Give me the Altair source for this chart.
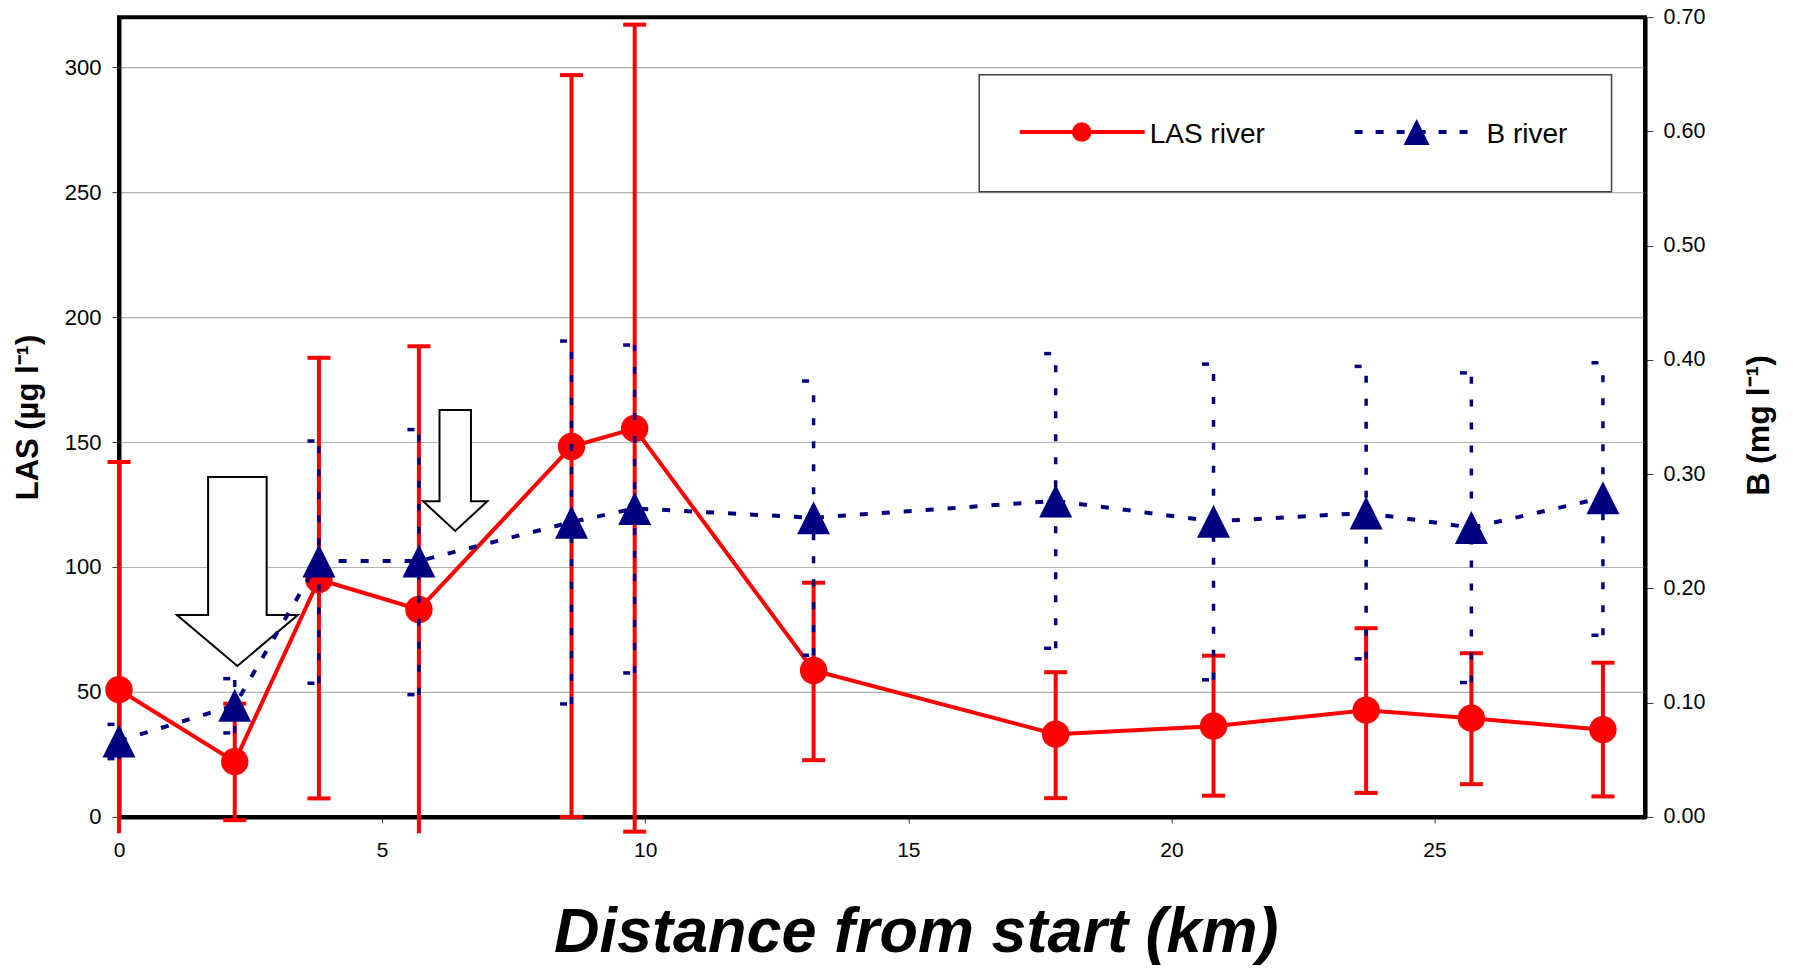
import altair as alt
import pandas as pd

# ---------------- data ----------------
dist = [0, 2.2, 3.8, 5.7, 8.6, 9.8, 13.2, 17.8, 20.8, 23.7, 25.7, 28.2]
las = [50.9, 22.1, 95.0, 83.0, 148.2, 155.4, 58.6, 33.1, 36.3, 42.7, 39.5, 34.9]
las_lo = [-40.2, -1.3, 7.4, -22.3, 0.0, -5.9, 22.7, 7.5, 8.5, 9.6, 13.1, 8.2]
las_hi = [142.0, 45.3, 183.7, 188.3, 296.8, 317.0, 93.7, 57.9, 64.5, 75.5, 65.5, 61.7]
b = [0.0665, 0.0977, 0.224, 0.224, 0.258, 0.270, 0.2618, 0.2766, 0.2587, 0.266, 0.2532, 0.2793]
b_lo = [0.051, 0.0735, 0.117, 0.107, 0.0989, 0.126, 0.1415, 0.1476, 0.120, 0.1384, 0.1176, 0.159]
b_hi = [0.081, 0.121, 0.329, 0.339, 0.4165, 0.413, 0.3815, 0.4055, 0.3963, 0.3943, 0.3886, 0.3975]

arrow_dist = [2.25, 6.39]
arrow_las = [98.2, 138.6]

legend_labels = ["LAS river", "B river"]
x_ticks = [0, 5, 10, 15, 20, 25]
las_ticks = [0, 50, 100, 150, 200, 250, 300]
b_ticks = [0.0, 0.1, 0.2, 0.3, 0.4, 0.5, 0.6, 0.7]

x_title = "Distance from start (km)"
las_title = "LAS (µg l⁻¹)"
b_title = "B (mg l⁻¹)"

df = pd.DataFrame(dict(dist=dist, las=las, las_lo=las_lo, las_hi=las_hi,
                       b=b, b_lo=b_lo, b_hi=b_hi))

RED = "#FF0000"
NAVY = "#000080"
FONT = "Liberation Sans"
CLIP_LOW = -6.5   # the original drawing cuts error bars just below the axis

# ---------------- scales & axes ----------------
x_scale = alt.Scale(domain=[0, 29], nice=False, zero=False)
x_axis = alt.Axis(values=x_ticks, title=x_title, grid=False, labelFlush=False,
                  tickSize=6, tickColor="#333333", labelPadding=17,
                  labelFontSize=21, labelColor="black", labelFont=FONT,
                  domainColor="black", domainWidth=4,
                  titleFont=FONT, titleFontSize=63, titleFontStyle="italic",
                  titleFontWeight="bold", titleColor="black",
                  titleX=797, titleY=135, titleAlign="center",
                  titleBaseline="alphabetic")
las_scale = alt.Scale(domain=[0, 320], nice=False, zero=False)
las_axis = alt.Axis(values=las_ticks, title=las_title, format="d",
                    grid=True, gridColor="#b0b0b0", gridWidth=1.2,
                    tickSize=7, tickColor="#333333", labelPadding=11,
                    labelFontSize=22, labelColor="black", labelFont=FONT,
                    domainColor="black", domainWidth=4,
                    titleFont=FONT, titleFontSize=31, titleFontWeight="bold",
                    titleColor="black", titleAngle=270, titleX=-90, titleY=400,
                    titleAlign="center", titleBaseline="middle")
b_scale = alt.Scale(domain=[0, 0.7], nice=False, zero=False)
b_axis = alt.Axis(values=b_ticks, title=b_title, format=".2f", orient="right",
                  grid=False, tickSize=8, tickColor="#333333", labelPadding=10,
                  labelFontSize=21.5, labelColor="black", labelFont=FONT,
                  domainColor="black", domainWidth=4,
                  titleFont=FONT, titleFontSize=32, titleFontWeight="bold",
                  titleColor="black", titleAngle=270, titleX=113.5, titleY=408,
                  titleAlign="center", titleBaseline="middle")

X = alt.X("dist:Q", scale=x_scale, axis=x_axis)
X2 = alt.X2("dist:Q")

base = alt.Chart(df)

# ---------------- LAS series ----------------
red_bars = base.transform_calculate(
    lo_draw=f"max(datum.las_lo, {CLIP_LOW})"
).mark_rule(color=RED, strokeWidth=4).encode(
    x=X, y=alt.Y("lo_draw:Q", scale=las_scale, axis=las_axis), y2=alt.Y2("las_hi:Q"))
red_cap_hi = base.mark_rule(color=RED, strokeWidth=4, xOffset=-11.5, x2Offset=11.5).encode(
    x=X, x2=X2, y=alt.Y("las_hi:Q", scale=las_scale, axis=las_axis))
red_cap_lo = base.transform_filter(f"datum.las_lo >= {CLIP_LOW}").mark_rule(
    color=RED, strokeWidth=4, xOffset=-11.5, x2Offset=11.5).encode(
    x=X, x2=X2, y=alt.Y("las_lo:Q", scale=las_scale, axis=las_axis))
red_line = base.mark_line(color=RED, strokeWidth=4).encode(
    x=X, y=alt.Y("las:Q", scale=las_scale, axis=las_axis))
red_pts = base.mark_circle(color=RED, size=750, opacity=1).encode(
    x=X, y=alt.Y("las:Q", scale=las_scale, axis=las_axis))

arrow_big = alt.Chart(pd.DataFrame({"dist": [arrow_dist[0]], "las": [arrow_las[0]]})).mark_point(
    shape="M-0.31,-1L0.31,-1L0.31,0.46L0.64,0.46L0,1L-0.64,0.46L-0.31,0.46Z",
    size=35721, filled=True, fill="white", stroke="black", strokeWidth=2, opacity=1
).encode(x=X, y=alt.Y("las:Q", scale=las_scale, axis=las_axis))
arrow_small = alt.Chart(pd.DataFrame({"dist": [arrow_dist[1]], "las": [arrow_las[1]]})).mark_point(
    shape="M-0.26,-1L0.26,-1L0.26,0.51L0.53,0.51L0,1L-0.53,0.51L-0.26,0.51Z",
    size=14641, filled=True, fill="white", stroke="black", strokeWidth=2, opacity=1
).encode(x=X, y=alt.Y("las:Q", scale=las_scale, axis=las_axis))

las_group = alt.layer(red_bars, red_cap_hi, red_cap_lo, red_line, red_pts,
                      arrow_big, arrow_small)

# ---------------- B series ----------------
DASH = [7, 16]
TRI = "M0,-1L1,1L-1,1Z"
b_bars = base.mark_rule(color=NAVY, strokeWidth=3.5, strokeDash=DASH).encode(
    x=X, y=alt.Y("b_lo:Q", scale=b_scale, axis=b_axis), y2=alt.Y2("b_hi:Q"))
b_cap_hi = base.mark_rule(color=NAVY, strokeWidth=3.5, strokeDash=DASH,
                          xOffset=-11.5, x2Offset=11.5).encode(
    x=X, x2=X2, y=alt.Y("b_hi:Q", scale=b_scale, axis=b_axis))
b_cap_lo = base.mark_rule(color=NAVY, strokeWidth=3.5, strokeDash=DASH,
                          xOffset=-11.5, x2Offset=11.5).encode(
    x=X, x2=X2, y=alt.Y("b_lo:Q", scale=b_scale, axis=b_axis))
b_line = base.mark_line(color=NAVY, strokeWidth=4, strokeDash=[8, 14]).encode(
    x=X, y=alt.Y("b:Q", scale=b_scale, axis=b_axis))
b_pts = base.mark_point(shape=TRI, size=1089, filled=True, color=NAVY, opacity=1,
                        strokeWidth=0).encode(
    x=X, y=alt.Y("b:Q", scale=b_scale, axis=b_axis))

b_group = alt.layer(b_bars, b_cap_hi, b_cap_lo, b_line, b_pts)

# ---------------- legend box (drawn by hand) ----------------
one = pd.DataFrame({"k": [0]})
leg_box = alt.Chart(one).mark_rect(fill="white", stroke="#404040", strokeWidth=1.5).encode(
    x=alt.value(860.5), x2=alt.value(1493), y=alt.value(57.7), y2=alt.value(174.7))
leg_red_line = alt.Chart(one).mark_rule(color=RED, strokeWidth=4).encode(
    x=alt.value(901), x2=alt.value(1026), y=alt.value(115))
leg_red_pt = alt.Chart(one).mark_circle(color=RED, size=380, opacity=1).encode(
    x=alt.value(963), y=alt.value(115))
leg_red_txt = alt.Chart(pd.DataFrame({"label": [legend_labels[0]]})).mark_text(
    align="left", baseline="middle", fontSize=28, font=FONT, color="black").encode(
    x=alt.value(1031), y=alt.value(118), text="label:N")
leg_b_line = alt.Chart(one).mark_rule(color=NAVY, strokeWidth=4, strokeDash=[8, 13]).encode(
    x=alt.value(1236), x2=alt.value(1361), y=alt.value(115))
leg_b_pt = alt.Chart(one).mark_point(shape=TRI, size=676, filled=True, color=NAVY,
                                     opacity=1, strokeWidth=0).encode(
    x=alt.value(1298), y=alt.value(115))
leg_b_txt = alt.Chart(pd.DataFrame({"label": [legend_labels[1]]})).mark_text(
    align="left", baseline="middle", fontSize=28, font=FONT, color="black").encode(
    x=alt.value(1368), y=alt.value(118), text="label:N")

chart = alt.layer(
    las_group, b_group,
    leg_box, leg_red_line, leg_red_pt, leg_red_txt, leg_b_line, leg_b_pt, leg_b_txt
).resolve_scale(y="independent").properties(
    width=1526.5, height=800,
    padding={"left": 111, "top": 9, "right": 140, "bottom": 151},
    autosize=alt.AutoSizeParams(type="none"),
    background="white",
).configure(font=FONT).configure_view(stroke="black", strokeWidth=4)

chart.save("out.html", embed_options={"renderer": "svg", "actions": False})
